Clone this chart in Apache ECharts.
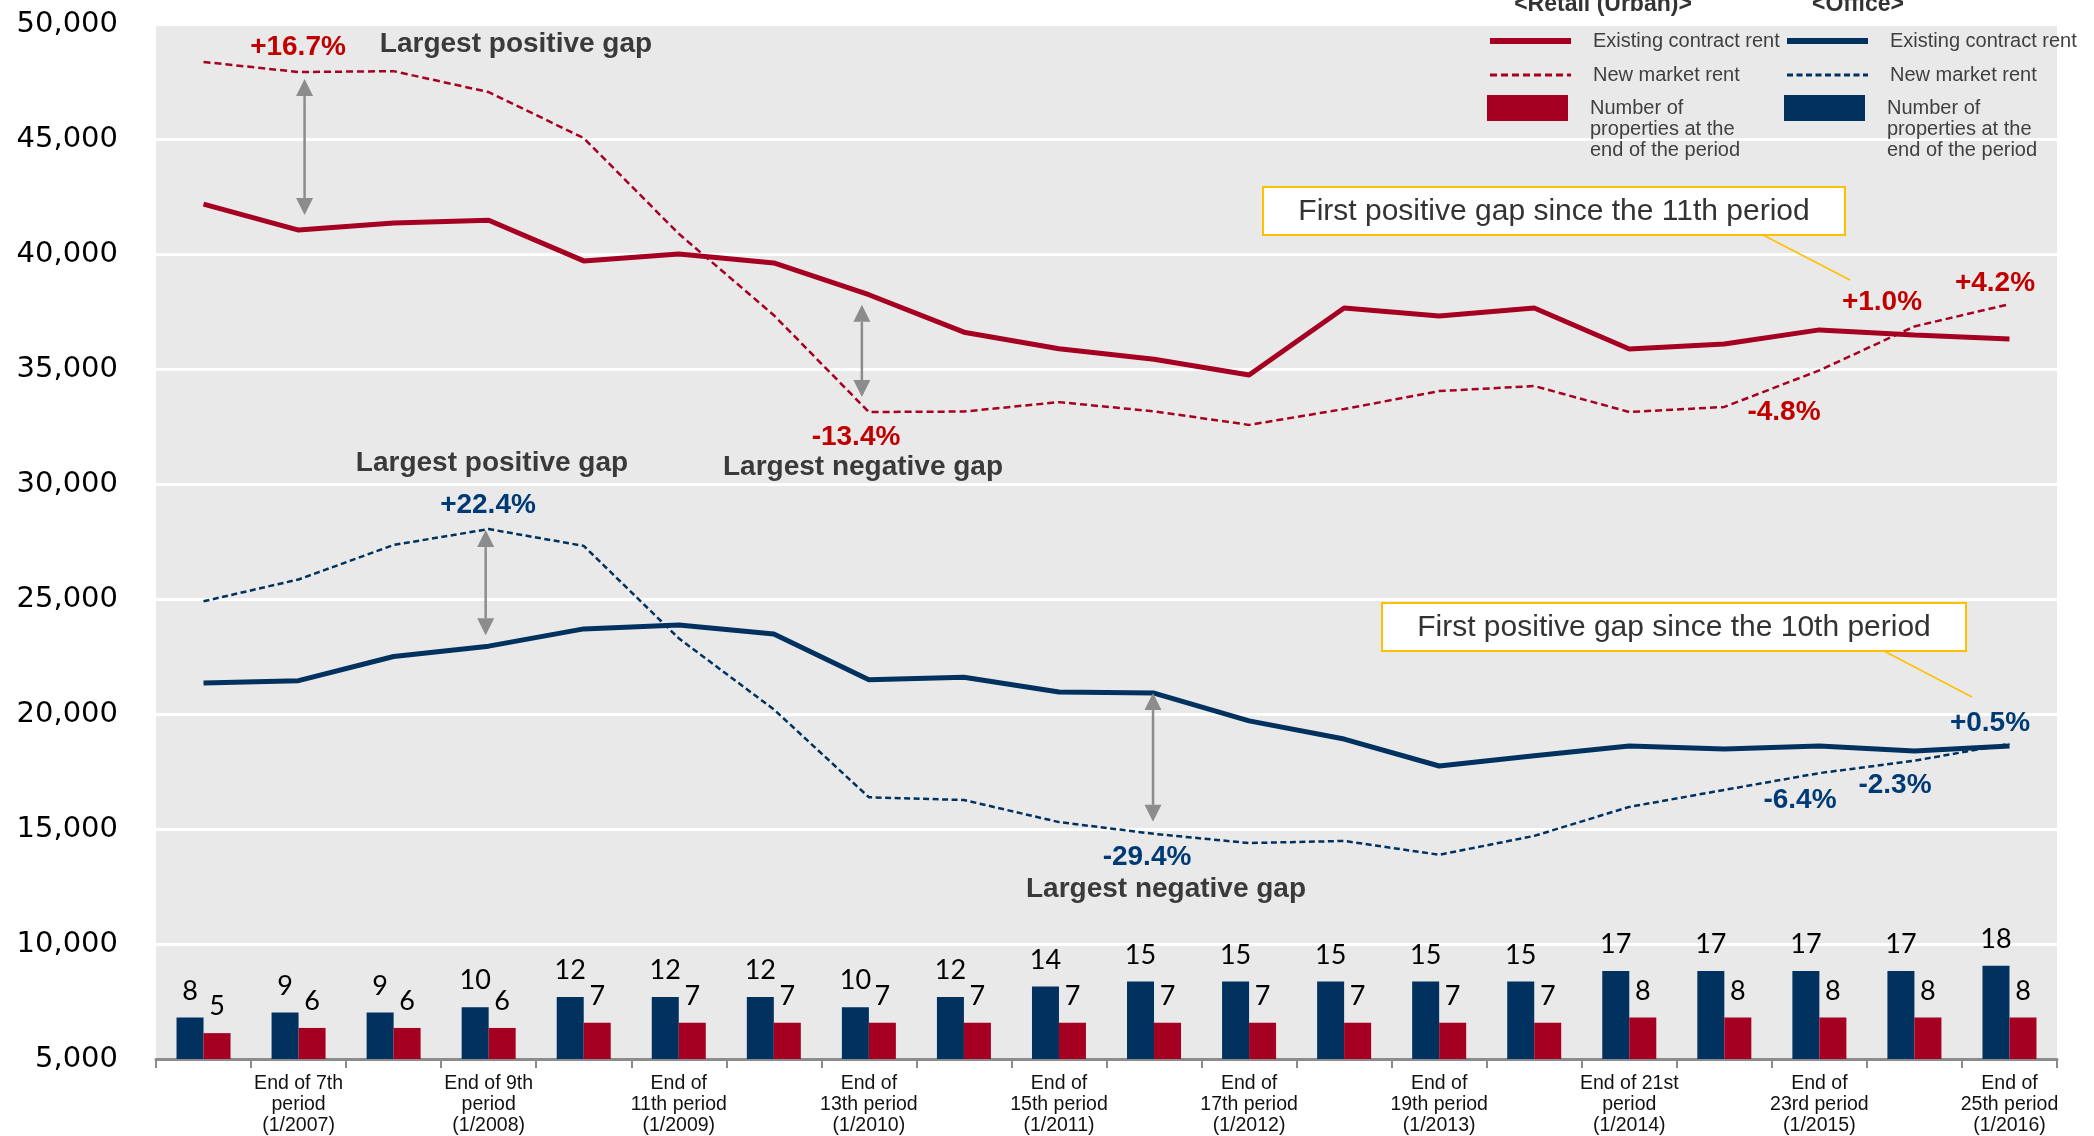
<!DOCTYPE html>
<html><head><meta charset="utf-8">
<script src="https://cdn.jsdelivr.net/npm/echarts@6/dist/echarts.min.js"></script>
<style>html,body{margin:0;padding:0;background:#fff}#c{width:2094px;height:1136px}</style>
</head><body><div id="c"></div>
<script>
// ---- data ----
const categories = ['6th period','7th period','8th period','9th period','10th period','11th period','12th period','13th period','14th period','15th period','16th period','17th period','18th period','19th period','20th period','21st period','22nd period','23rd period','24th period','25th period'];
const tickLabels = ['', 'End of 7th\nperiod\n(1/2007)', '', 'End of 9th\nperiod\n(1/2008)', '', 'End of\n11th period\n(1/2009)', '', 'End of\n13th period\n(1/2010)', '', 'End of\n15th period\n(1/2011)', '', 'End of\n17th period\n(1/2012)', '', 'End of\n19th period\n(1/2013)', '', 'End of 21st\nperiod\n(1/2014)', '', 'End of\n23rd period\n(1/2015)', '', 'End of\n25th period\n(1/2016)'];
const retailExisting = [42170, 41040, 41350, 41470, 39700, 40000, 39610, 38230, 36600, 35880, 35420, 34740, 37650, 37300, 37650, 35870, 36090, 36700, 36480, 36300];
const retailNew      = [48350, 47910, 47950, 47040, 45040, 40880, 37340, 33130, 33150, 33560, 33160, 32570, 33260, 34040, 34260, 33130, 33350, 34940, 36850, 37820];
const officeExisting = [21350, 21450, 22500, 22950, 23700, 23870, 23480, 21490, 21600, 20960, 20910, 19700, 18910, 17740, 18180, 18610, 18480, 18610, 18390, 18610];
const officeNew      = [24900, 25850, 27350, 28040, 27310, 23290, 20200, 16380, 16260, 15300, 14790, 14390, 14480, 13880, 14700, 15960, 16700, 17430, 17970, 18700];
const officeCount = [8, 9, 9, 10, 12, 12, 12, 10, 12, 14, 15, 15, 15, 15, 15, 17, 17, 17, 17, 18];
const retailCount = [5, 6, 6, 6, 7, 7, 7, 7, 7, 7, 7, 7, 7, 7, 7, 8, 8, 8, 8, 8];
const yTicks = [5000, 10000, 15000, 20000, 25000, 30000, 35000, 40000, 45000, 50000];

const legendNames = {
  'Retail existing': 'Existing contract rent',
  'Retail new': 'New market rent',
  'Retail count': '\n\nNumber of\nproperties at the\nend of the period',
  'Office existing': 'Existing contract rent',
  'Office new': 'New market rent',
  'Office count': '\n\nNumber of\nproperties at the\nend of the period'
};

const RED = '#A50021', BLUE = '#00315F';
const TXT_RED = '#C00000', TXT_BLUE = '#003A75', TXT_GRAY = '#3A3A3A';
const FONT = "'Liberation Sans', Arial, sans-serif";

const chart = echarts.init(document.getElementById('c'), null, {renderer: 'canvas'});

const legendText = {fontFamily: FONT, fontSize: 20, lineHeight: 20, color: '#404040', padding: [0, 0, 0, 17]};
const legendBarText = {fontFamily: FONT, fontSize: 20, lineHeight: 21, color: '#404040', padding: [0, 0, 0, 17]};
function mkLegend(items, left, top, h, ts) {
  return {data: items, left: left, top: top, orient: 'vertical', itemWidth: 81, itemHeight: h, itemGap: 14,
    padding: 0, selectedMode: false, textStyle: ts, formatter: n => legendNames[n]};
}
function lineItem(name, w) { return {name: name, lineStyle: {width: w}, itemStyle: {opacity: 0}}; }
function barItem(name) { return {name: name, icon: 'rect'}; }

const barLabel = {show: true, position: 'top', distance: 13, fontFamily: 'Lato, sans-serif', fontSize: 27, color: '#000'};

const option = {
  animation: false,
  backgroundColor: '#fff',
  grid: {left: 156, right: 37, top: 24, bottom: 77, show: true, backgroundColor: '#E9E9E9', borderWidth: 0, containLabel: false},
  legend: [
    mkLegend([lineItem('Retail existing', 6), lineItem('Retail new', 3)], 1487, 31, 20, legendText),
    mkLegend([barItem('Retail count')], 1487, 55.5, 26, legendBarText),
    mkLegend([lineItem('Office existing', 6), lineItem('Office new', 3)], 1784, 31, 20, legendText),
    mkLegend([barItem('Office count')], 1784, 55.5, 26, legendBarText)
  ],
  xAxis: {
    type: 'category', data: categories, boundaryGap: true,
    axisLine: {lineStyle: {color: '#8C8C8C', width: 3}},
    axisTick: {show: true, interval: 0, length: 9, lineStyle: {color: '#8C8C8C', width: 2}},
    axisLabel: {interval: 0, margin: 14, fontFamily: FONT, fontSize: 19.5, lineHeight: 21, color: '#111',
      formatter: (v, i) => tickLabels[i]},
    splitLine: {show: false}
  },
  yAxis: [
    {type: 'value', min: yTicks[0], max: yTicks[yTicks.length - 1], interval: yTicks[1] - yTicks[0],
      axisLine: {show: false}, axisTick: {show: false},
      axisLabel: {margin: 38, fontFamily: "'DejaVu Sans', Verdana, sans-serif", fontSize: 29, color: '#000',
        formatter: v => v.toLocaleString('en-US')},
      splitLine: {lineStyle: {color: '#fff', width: 3}}},
    {type: 'value', min: 0, max: 200, show: false, splitLine: {show: false}}
  ],
  series: [
    {name: 'Office count', type: 'bar', yAxisIndex: 1, data: officeCount, barWidth: 27, barGap: '0%',
      itemStyle: {color: BLUE}, label: barLabel, z: 2},
    {name: 'Retail count', type: 'bar', yAxisIndex: 1, data: retailCount, barWidth: 27, barGap: '0%',
      itemStyle: {color: RED}, label: barLabel, z: 2},
    {name: 'Retail existing', type: 'line', data: retailExisting, symbol: 'none', z: 4,
      lineStyle: {color: RED, width: 5}, itemStyle: {color: RED}},
    {name: 'Retail new', type: 'line', data: retailNew, symbol: 'none', z: 3,
      lineStyle: {color: RED, width: 2.5, type: [7, 4]}, itemStyle: {color: RED}},
    {name: 'Office existing', type: 'line', data: officeExisting, symbol: 'none', z: 4,
      lineStyle: {color: BLUE, width: 5}, itemStyle: {color: BLUE}},
    {name: 'Office new', type: 'line', data: officeNew, symbol: 'none', z: 3,
      lineStyle: {color: BLUE, width: 2.5, type: [6, 3.5]}, itemStyle: {color: BLUE}}
  ]
};
chart.setOption(option);

// ---- annotations ----
function px(i, v) { return chart.convertToPixel({xAxisIndex: 0, yAxisIndex: 0}, [i, v]); }
const g = [];
function arrow(i, vTop, vBot, dx, insTop, insBot) {
  const a = px(i, vTop), b = px(i, vBot);
  const x = a[0] + dx, y1 = a[1] + insTop, y2 = b[1] - insBot, hw = 8.5, hh = 17, c = '#8C8C8C';
  g.push({type: 'line', z: 10, shape: {x1: x, y1: y1 + hh, x2: x, y2: y2 - hh}, style: {stroke: c, lineWidth: 2.5}});
  g.push({type: 'polygon', z: 10, shape: {points: [[x, y1], [x - hw, y1 + hh], [x + hw, y1 + hh]]}, style: {fill: c}});
  g.push({type: 'polygon', z: 10, shape: {points: [[x, y2], [x - hw, y2 - hh], [x + hw, y2 - hh]]}, style: {fill: c}});
}
arrow(1, retailNew[1], retailExisting[1], 6, 7, 15);
arrow(7, retailExisting[7], retailNew[7], -7, 10, 15);
arrow(3, officeNew[3], officeExisting[3], -3, 1, 11);
arrow(10, officeExisting[10], officeNew[10], -1, 0, 12);

function txt(s, x, y, color, size, bold) {
  g.push({type: 'text', z: 11, x: x, y: y, style: {text: s, fill: color, font: (bold ? 'bold ' : '') + size + 'px ' + FONT,
    textAlign: 'center', textVerticalAlign: 'middle'}});
}
txt('+16.7%', 298, 47, TXT_RED, 28, true);
txt('Largest positive gap', 516, 44, TXT_GRAY, 28, true);
txt('-13.4%', 856, 437, TXT_RED, 28, true);
txt('Largest negative gap', 863, 467, TXT_GRAY, 28, true);
txt('Largest positive gap', 492, 463, TXT_GRAY, 28, true);
txt('+22.4%', 488, 505, TXT_BLUE, 28, true);
txt('-29.4%', 1147, 857, TXT_BLUE, 28, true);
txt('Largest negative gap', 1166, 889, TXT_GRAY, 28, true);
txt('+1.0%', 1882, 302, TXT_RED, 28, true);
txt('+4.2%', 1995, 283, TXT_RED, 28, true);
txt('-4.8%', 1784, 412, TXT_RED, 28, true);
txt('+0.5%', 1990, 723, TXT_BLUE, 28, true);
txt('-2.3%', 1895, 785, TXT_BLUE, 28, true);
txt('-6.4%', 1800, 800, TXT_BLUE, 28, true);

function callout(s, x1, y1, x2, y2, lx1, ly1, lx2, ly2) {
  g.push({type: 'line', z: 11, shape: {x1: lx1, y1: ly1, x2: lx2, y2: ly2}, style: {stroke: '#FFC000', lineWidth: 1.5}});
  g.push({type: 'rect', z: 12, shape: {x: x1, y: y1, width: x2 - x1, height: y2 - y1}, style: {fill: '#fff', stroke: '#FFC000', lineWidth: 2}});
  g.push({type: 'text', z: 13, x: (x1 + x2) / 2, y: (y1 + y2) / 2 + 1, style: {text: s, fill: '#333', font: '30px ' + FONT, textAlign: 'center', textVerticalAlign: 'middle'}});
}
callout('First positive gap since the 11th period', 1263, 187, 1845, 235, 1763, 235, 1850, 280);
callout('First positive gap since the 10th period', 1382, 603, 1966, 651, 1884, 651, 1972, 697);

// legend headers
txt('<Retail (Urban)>', 1603, 5, '#333', 23, true);
txt('<Office>', 1858, 5, '#333', 23, true);

chart.setOption({graphic: g});
</script></body></html>
